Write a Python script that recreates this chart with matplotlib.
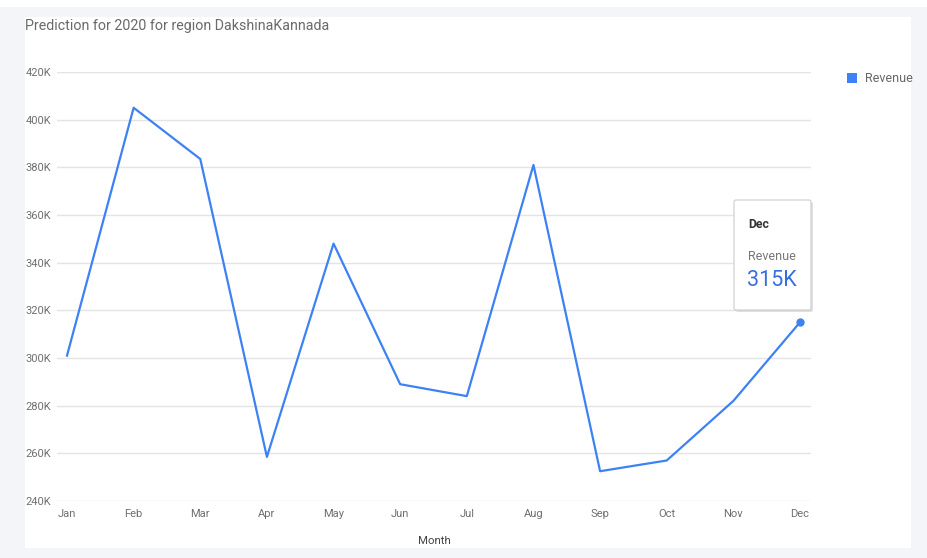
import matplotlib.pyplot as plt
from matplotlib.patches import Rectangle, FancyBboxPatch
from matplotlib.ticker import FuncFormatter

plt.rcParams['font.family'] = ['Roboto', 'DejaVu Sans']

months = ["Jan", "Feb", "Mar", "Apr", "May", "Jun",
          "Jul", "Aug", "Sep", "Oct", "Nov", "Dec"]
revenue = [301000, 405000, 383500, 258500, 348000, 289000,
           284000, 381000, 252500, 257000, 282000, 315000]
y_ticks = [240000, 260000, 280000, 300000, 320000, 340000,
           360000, 380000, 400000, 420000]

W, H = 927, 558
LINE = "#3d82f4"
GRID = "#e4e4e4"
TXT = "#6f6f6f"

fig = plt.figure(figsize=(W / 100, H / 100), dpi=100)
fig.patch.set_facecolor("#f3f5f9")

# background panel (pixel coordinates)
bg = fig.add_axes([0, 0, 1, 1], zorder=0)
bg.set_xlim(0, W)
bg.set_ylim(H, 0)
bg.axis("off")
bg.add_patch(Rectangle((0, 0), W, 7, facecolor="white", edgecolor="none"))
bg.add_patch(Rectangle((25, 17), 886, 531, facecolor="white", edgecolor="none"))
bg.text(25, 26, "Prediction for 2020 for region DakshinaKannada",
        fontsize=10.3, color="#6a6a6a", va="center", ha="left")
bg.text(434, 541, "Month", fontsize=8.2, color="#444444", ha="center", va="center")
bg.add_patch(Rectangle((847, 73), 10, 10, facecolor=LINE, edgecolor="none"))
bg.text(865, 79, "Revenue", fontsize=9, color="#666666", va="center", ha="left")

# chart
ax = fig.add_axes([57 / W, 1 - 501 / H, (811 - 57) / W, (501 - 72) / H], zorder=1)
ax.set_facecolor("none")
x = list(range(len(months)))
ax.plot(x, revenue, color=LINE, linewidth=1.6, zorder=3)
ax.plot(x[-1], revenue[-1], "o", color=LINE, markersize=5, zorder=4)
ax.set_xlim(-0.15, 11.165)
ax.set_ylim(y_ticks[0], y_ticks[-1])
ax.set_yticks(y_ticks)
ax.yaxis.set_major_formatter(FuncFormatter(lambda v, p: f"{v / 1000:.0f}K"))
ax.set_xticks(x)
ax.set_xticklabels(months)
ax.grid(axis="y", color=GRID, linewidth=1)
ax.set_axisbelow(True)
for s in ax.spines.values():
    s.set_visible(False)
ax.tick_params(length=0, labelsize=8, colors=TXT)
ax.tick_params(axis="y", pad=4)
ax.tick_params(axis="x", pad=6)

# tooltip for December
tip = fig.add_axes([0, 0, 1, 1], zorder=2)
tip.set_xlim(0, W)
tip.set_ylim(H, 0)
tip.axis("off")
tip.add_patch(FancyBboxPatch((736, 202), 77, 110, boxstyle="round,pad=0,rounding_size=2",
                             facecolor="#d0d0d0", edgecolor="none", alpha=0.6))
tip.add_patch(FancyBboxPatch((734, 200), 77, 110, boxstyle="round,pad=0,rounding_size=2",
                             facecolor="white", edgecolor="#cccccc", linewidth=0.8))
tip.text(748, 224, months[-1], fontsize=8.8, fontweight="bold", color="#333333", va="center")
tip.text(748, 256, "Revenue", fontsize=9, color="#777777", va="center")
tip.text(747, 281, f"{revenue[-1] / 1000:.0f}K", fontsize=15.5, color="#3a6ee0", va="center")

fig.savefig("out.png", dpi=100, facecolor=fig.get_facecolor())
